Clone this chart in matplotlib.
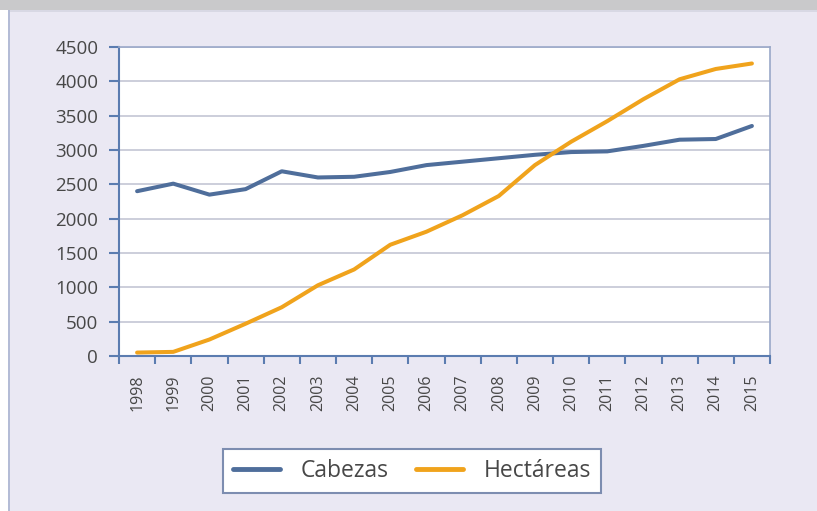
import matplotlib.pyplot as plt
from matplotlib.patches import Rectangle

years = [str(y) for y in range(1998, 2016)]
cabezas = [2400, 2510, 2350, 2430, 2690, 2600, 2610, 2680, 2780, 2830,
           2880, 2930, 2970, 2980, 3060, 3150, 3160, 3350]
hectareas = [50, 60, 240, 470, 710, 1030, 1260, 1620, 1810, 2050,
             2330, 2780, 3120, 3420, 3740, 4030, 4180, 4260]
yticks = [0, 500, 1000, 1500, 2000, 2500, 3000, 3500, 4000, 4500]

plt.rcParams['font.family'] = ['Open Sans', 'DejaVu Sans']

bg = '#eae8f3'
axis_col = '#5b7cb0'
grid_col = '#c4c6d4'
text_col = '#474747'

fig = plt.figure(figsize=(8.17, 5.11), dpi=100)
fig.patch.set_facecolor(bg)

# marco: banda gris arriba y borde izquierdo
fig.add_artist(Rectangle((0, 1 - 10 / 511), 1, 10 / 511, transform=fig.transFigure,
                         facecolor='#c9c9cb', edgecolor='none'))
fig.add_artist(Rectangle((0, 1 - 12 / 511), 1, 2 / 511, transform=fig.transFigure,
                         facecolor='#d8d8e4', edgecolor='none'))
fig.add_artist(Rectangle((0, 0), 8 / 817, 1 - 10 / 511, transform=fig.transFigure,
                         facecolor='white', edgecolor='none'))
fig.add_artist(Rectangle((8 / 817, 0), 2 / 817, 1 - 10 / 511, transform=fig.transFigure,
                         facecolor='#b4bcd6', edgecolor='none'))

ax = fig.add_axes([119 / 817, 1 - 356 / 511, (770 - 119) / 817, (356 - 47) / 511])
ax.set_facecolor('white')

x = list(range(len(years)))
ax.plot(x, cabezas, color='#4f6e9b', lw=2.9, label='Cabezas', solid_capstyle='round')
ax.plot(x, hectareas, color='#f0a31c', lw=2.9, label='Hectáreas', solid_capstyle='round')

ax.set_xlim(-0.5, len(years) - 0.5)
ax.set_ylim(0, 4500)
ax.set_yticks(yticks)
ax.set_yticklabels([str(v) for v in yticks], fontsize=13.5, color=text_col)
ax.set_xticks(x)
ax.set_xticklabels(years, rotation=90, fontsize=11.5, color=text_col)
ax.set_xticks([i - 0.5 for i in range(len(years) + 1)], minor=True)
ax.tick_params(axis='x', which='major', length=0, pad=13)
ax.tick_params(axis='x', which='minor', length=6, color=axis_col, width=1.5, direction='out')
ax.tick_params(axis='y', length=7, color=axis_col, width=1.5, pad=8)
ax.grid(axis='y', color=grid_col, lw=1.2)
ax.set_axisbelow(True)

for s in ['left', 'bottom']:
    ax.spines[s].set_color(axis_col)
    ax.spines[s].set_linewidth(1.5)
for s in ['top', 'right']:
    ax.spines[s].set_color('#9aa8c8')
    ax.spines[s].set_linewidth(1.2)

leg = fig.legend(loc='center', bbox_to_anchor=(412 / 817, 1 - 471 / 511), ncol=2,
                 fontsize=16.5, frameon=True, fancybox=False, framealpha=1,
                 handlelength=2.05, columnspacing=1.2, borderpad=0.45,
                 handletextpad=0.9, borderaxespad=0)
leg.get_frame().set_edgecolor('#7d8db0')
leg.get_frame().set_linewidth(1.5)
for t in leg.get_texts():
    t.set_color(text_col)
for h in leg.get_lines():
    h.set_linewidth(3.5)

fig.savefig('out.png', dpi=100, facecolor=bg)
